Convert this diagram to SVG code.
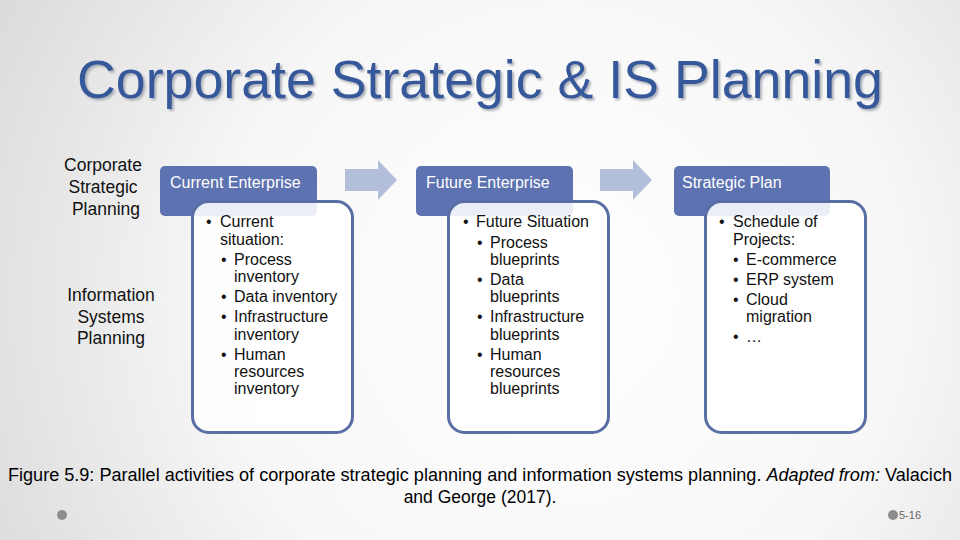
<svg xmlns="http://www.w3.org/2000/svg" width="960" height="540" viewBox="0 0 960 540">
<defs>
<radialGradient id="bg" cx="560" cy="300" r="620" gradientUnits="userSpaceOnUse">
<stop offset="0" stop-color="#ffffff"/>
<stop offset="0.55" stop-color="#f7f7f7"/>
<stop offset="1" stop-color="#dcdcdc"/>
</radialGradient>
<filter id="shadow" x="-5%" y="-20%" width="110%" height="140%">
<feDropShadow dx="2" dy="2" stdDeviation="0.8" flood-color="#9aa0aa" flood-opacity="0.8"/>
</filter>
<style>
text{font-family:"Liberation Sans",Arial,sans-serif}
.title{font-size:53px;fill:#36599a}
.side{font-size:17.5px;fill:#111;text-anchor:middle}
.hdr{fill:#5d72b0}
.hdrt{font-size:16px;fill:#ffffff}
.body{fill:#ffffff;fill-opacity:0.88;stroke:#5a6ea6;stroke-width:3}
.bt{font-size:16px;fill:#111}
.arrow{fill:#b3bedb}
.cap{font-size:17.5px;fill:#000}
.dot{fill:#8c8c8c}
</style>
</defs>
<rect width="960" height="540" fill="url(#bg)"/>

<g id="title">
<text class="title" x="77" y="98" textLength="806" lengthAdjust="spacingAndGlyphs" filter="url(#shadow)">Corporate Strategic &amp; IS Planning</text>
</g>

<g id="label-corporate">
<text class="side" x="103" y="171">Corporate</text>
<text class="side" x="103" y="193">Strategic</text>
<text class="side" x="106" y="215">Planning</text>
</g>
<g id="label-is">
<text class="side" x="111" y="301">Information</text>
<text class="side" x="111" y="323">Systems</text>
<text class="side" x="111" y="344">Planning</text>
</g>

<g id="connectors">
<polygon class="arrow" points="345,169 378,169 378,160 397,180 378,200 378,191 345,191"/>
<polygon class="arrow" points="600,169 633,169 633,160 652,180 633,200 633,191 600,191"/>
</g>

<g id="current-enterprise">
<rect class="hdr" x="160" y="166" width="157" height="50" rx="5"/>
<text class="hdrt" x="170" y="188">Current Enterprise</text>
<rect class="body" x="192.5" y="201.5" width="160" height="231" rx="16"/>
<text class="bt" x="206" y="227">•</text><text class="bt" x="220" y="227">Current</text>
<text class="bt" x="220" y="245">situation:</text>
<text class="bt" x="221" y="265">•</text><text class="bt" x="234" y="265">Process</text>
<text class="bt" x="234" y="282">inventory</text>
<text class="bt" x="221" y="302">•</text><text class="bt" x="234" y="302">Data inventory</text>
<text class="bt" x="221" y="322">•</text><text class="bt" x="234" y="322">Infrastructure</text>
<text class="bt" x="234" y="340">inventory</text>
<text class="bt" x="221" y="360">•</text><text class="bt" x="234" y="360">Human</text>
<text class="bt" x="234" y="377">resources</text>
<text class="bt" x="234" y="394">inventory</text>
</g>

<g id="future-enterprise">
<rect class="hdr" x="416" y="166" width="157" height="50" rx="5"/>
<text class="hdrt" x="426" y="188">Future Enterprise</text>
<rect class="body" x="448.5" y="201.5" width="160" height="231" rx="16"/>
<text class="bt" x="463" y="227">•</text><text class="bt" x="476" y="227">Future Situation</text>
<text class="bt" x="477" y="248">•</text><text class="bt" x="490" y="248">Process</text>
<text class="bt" x="490" y="265">blueprints</text>
<text class="bt" x="477" y="285">•</text><text class="bt" x="490" y="285">Data</text>
<text class="bt" x="490" y="302">blueprints</text>
<text class="bt" x="477" y="322">•</text><text class="bt" x="490" y="322">Infrastructure</text>
<text class="bt" x="490" y="340">blueprints</text>
<text class="bt" x="477" y="360">•</text><text class="bt" x="490" y="360">Human</text>
<text class="bt" x="490" y="377">resources</text>
<text class="bt" x="490" y="394">blueprints</text>
</g>

<g id="strategic-plan">
<rect class="hdr" x="674" y="166" width="156" height="50" rx="5"/>
<text class="hdrt" x="682" y="188">Strategic Plan</text>
<rect class="body" x="705.5" y="201.5" width="160" height="231" rx="16"/>
<text class="bt" x="719" y="227">•</text><text class="bt" x="733" y="227">Schedule of</text>
<text class="bt" x="733" y="245">Projects:</text>
<text class="bt" x="733" y="265">•</text><text class="bt" x="746" y="265">E-commerce</text>
<text class="bt" x="733" y="285">•</text><text class="bt" x="746" y="285">ERP system</text>
<text class="bt" x="733" y="305">•</text><text class="bt" x="746" y="305">Cloud</text>
<text class="bt" x="746" y="322">migration</text>
<text class="bt" x="733" y="342">•</text><text class="bt" x="746" y="342">…</text>
</g>

<g id="caption">
<text class="cap" x="8" y="481" textLength="944" lengthAdjust="spacingAndGlyphs">Figure 5.9: Parallel activities of corporate strategic planning and information systems planning. <tspan font-style="italic">Adapted from:</tspan> Valacich</text>
<text class="cap" x="480" y="503" text-anchor="middle">and George (2017).</text>
</g>

<g id="footer">
<circle class="dot" cx="62" cy="515" r="5"/>
<circle class="dot" cx="893" cy="515" r="5"/>
<text x="899" y="519" font-size="11" fill="#666">5-16</text>
</g>
</svg>
